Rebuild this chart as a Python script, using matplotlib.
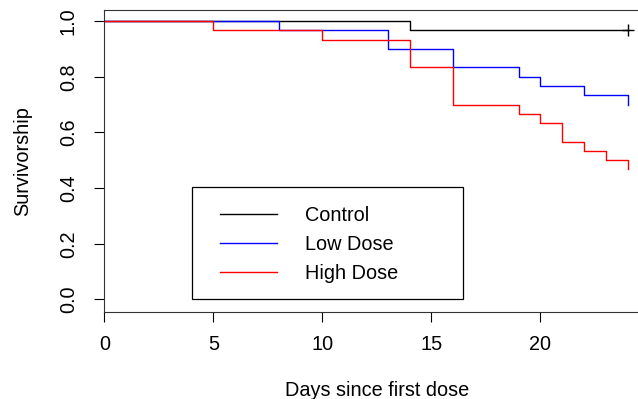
import matplotlib.pyplot as plt
from matplotlib.patches import Rectangle

# Kaplan-Meier style survivorship curves
days_control = [0, 14, 24]
surv_control = [1.0, 0.967, 0.967]

days_low = [0, 8, 13, 16, 19, 20, 22, 24]
surv_low = [1.0, 0.967, 0.900, 0.833, 0.800, 0.767, 0.733, 0.700]

days_high = [0, 5, 10, 14, 16, 19, 20, 21, 22, 23, 24]
surv_high = [1.0, 0.967, 0.933, 0.833, 0.700, 0.667, 0.633, 0.567, 0.533, 0.500, 0.467]

censor_day = [24]
censor_surv = [0.967]

x_ticks = [0, 5, 10, 15, 20]
y_ticks = [0.0, 0.2, 0.4, 0.6, 0.8, 1.0]

FS = 14.3
plt.rcParams.update({'font.family': ['Liberation Sans', 'DejaVu Sans'], 'font.size': FS})

W, H = 638, 399
fig = plt.figure(figsize=(W / 100, H / 100), dpi=100)
# plot region in pixels: x=0 at 104.3 px, 21.8 px per day; top at y=10, bottom at y=311.7
x0, ppd = 104.3, 21.8
xmax = 25
ytop, ybot = 10, 311.7
ax_w, ax_h = xmax * ppd, ybot - ytop
ax = fig.add_axes([x0 / W, (H - ybot) / H, ax_w / W, ax_h / H])

ax.step(days_control, surv_control, where='post', color='black', lw=1.0, label='Control')
ax.step(days_low, surv_low, where='post', color='blue', lw=1.0, label='Low Dose')
ax.step(days_high, surv_high, where='post', color='red', lw=1.0, label='High Dose')
ax.plot(censor_day, censor_surv, '+', color='black', ms=9, mew=1.0)

ax.set_xlim(0, xmax)
ax.set_ylim(-0.044, 1.0395)
ax.set_xticks(x_ticks)
ax.set_xticklabels([str(t) for t in x_ticks])
ax.set_yticks(y_ticks)
ax.set_yticklabels([f'{t:.1f}' for t in y_ticks], rotation=90, va='center')
ax.tick_params(direction='out', length=7, width=0.8, colors='black')
ax.tick_params(axis='x', pad=10)
ax.tick_params(axis='y', pad=12)

for side in ['top', 'left', 'bottom']:
    ax.spines[side].set_linewidth(0.8)
    ax.spines[side].set_color('#333333')
ax.spines['right'].set_visible(False)

ax.set_xlabel('Days since first dose', labelpad=19)
ax.set_ylabel('Survivorship', labelpad=19)

# legend box in pixels: x 191.7..463, y 187.3..299.3
lx0, lx1, ly0, ly1 = 191.7, 463, 187.3, 299.3
def to_ax(px, py):
    return (px - x0) / ax_w, (ybot - py) / ax_h

bx, by = to_ax(lx0, ly1)
ax.add_patch(Rectangle((bx, by), (lx1 - lx0) / ax_w, (ly1 - ly0) / ax_h,
                       transform=ax.transAxes, fill=False, edgecolor='black',
                       lw=0.9, zorder=5))
leg = ax.legend(loc='upper left', bbox_to_anchor=to_ax(220, 206), frameon=False,
                borderpad=0, borderaxespad=0, labelspacing=0.5,
                handlelength=2.85, handletextpad=1.42)

fig.savefig('out.png', dpi=100)
